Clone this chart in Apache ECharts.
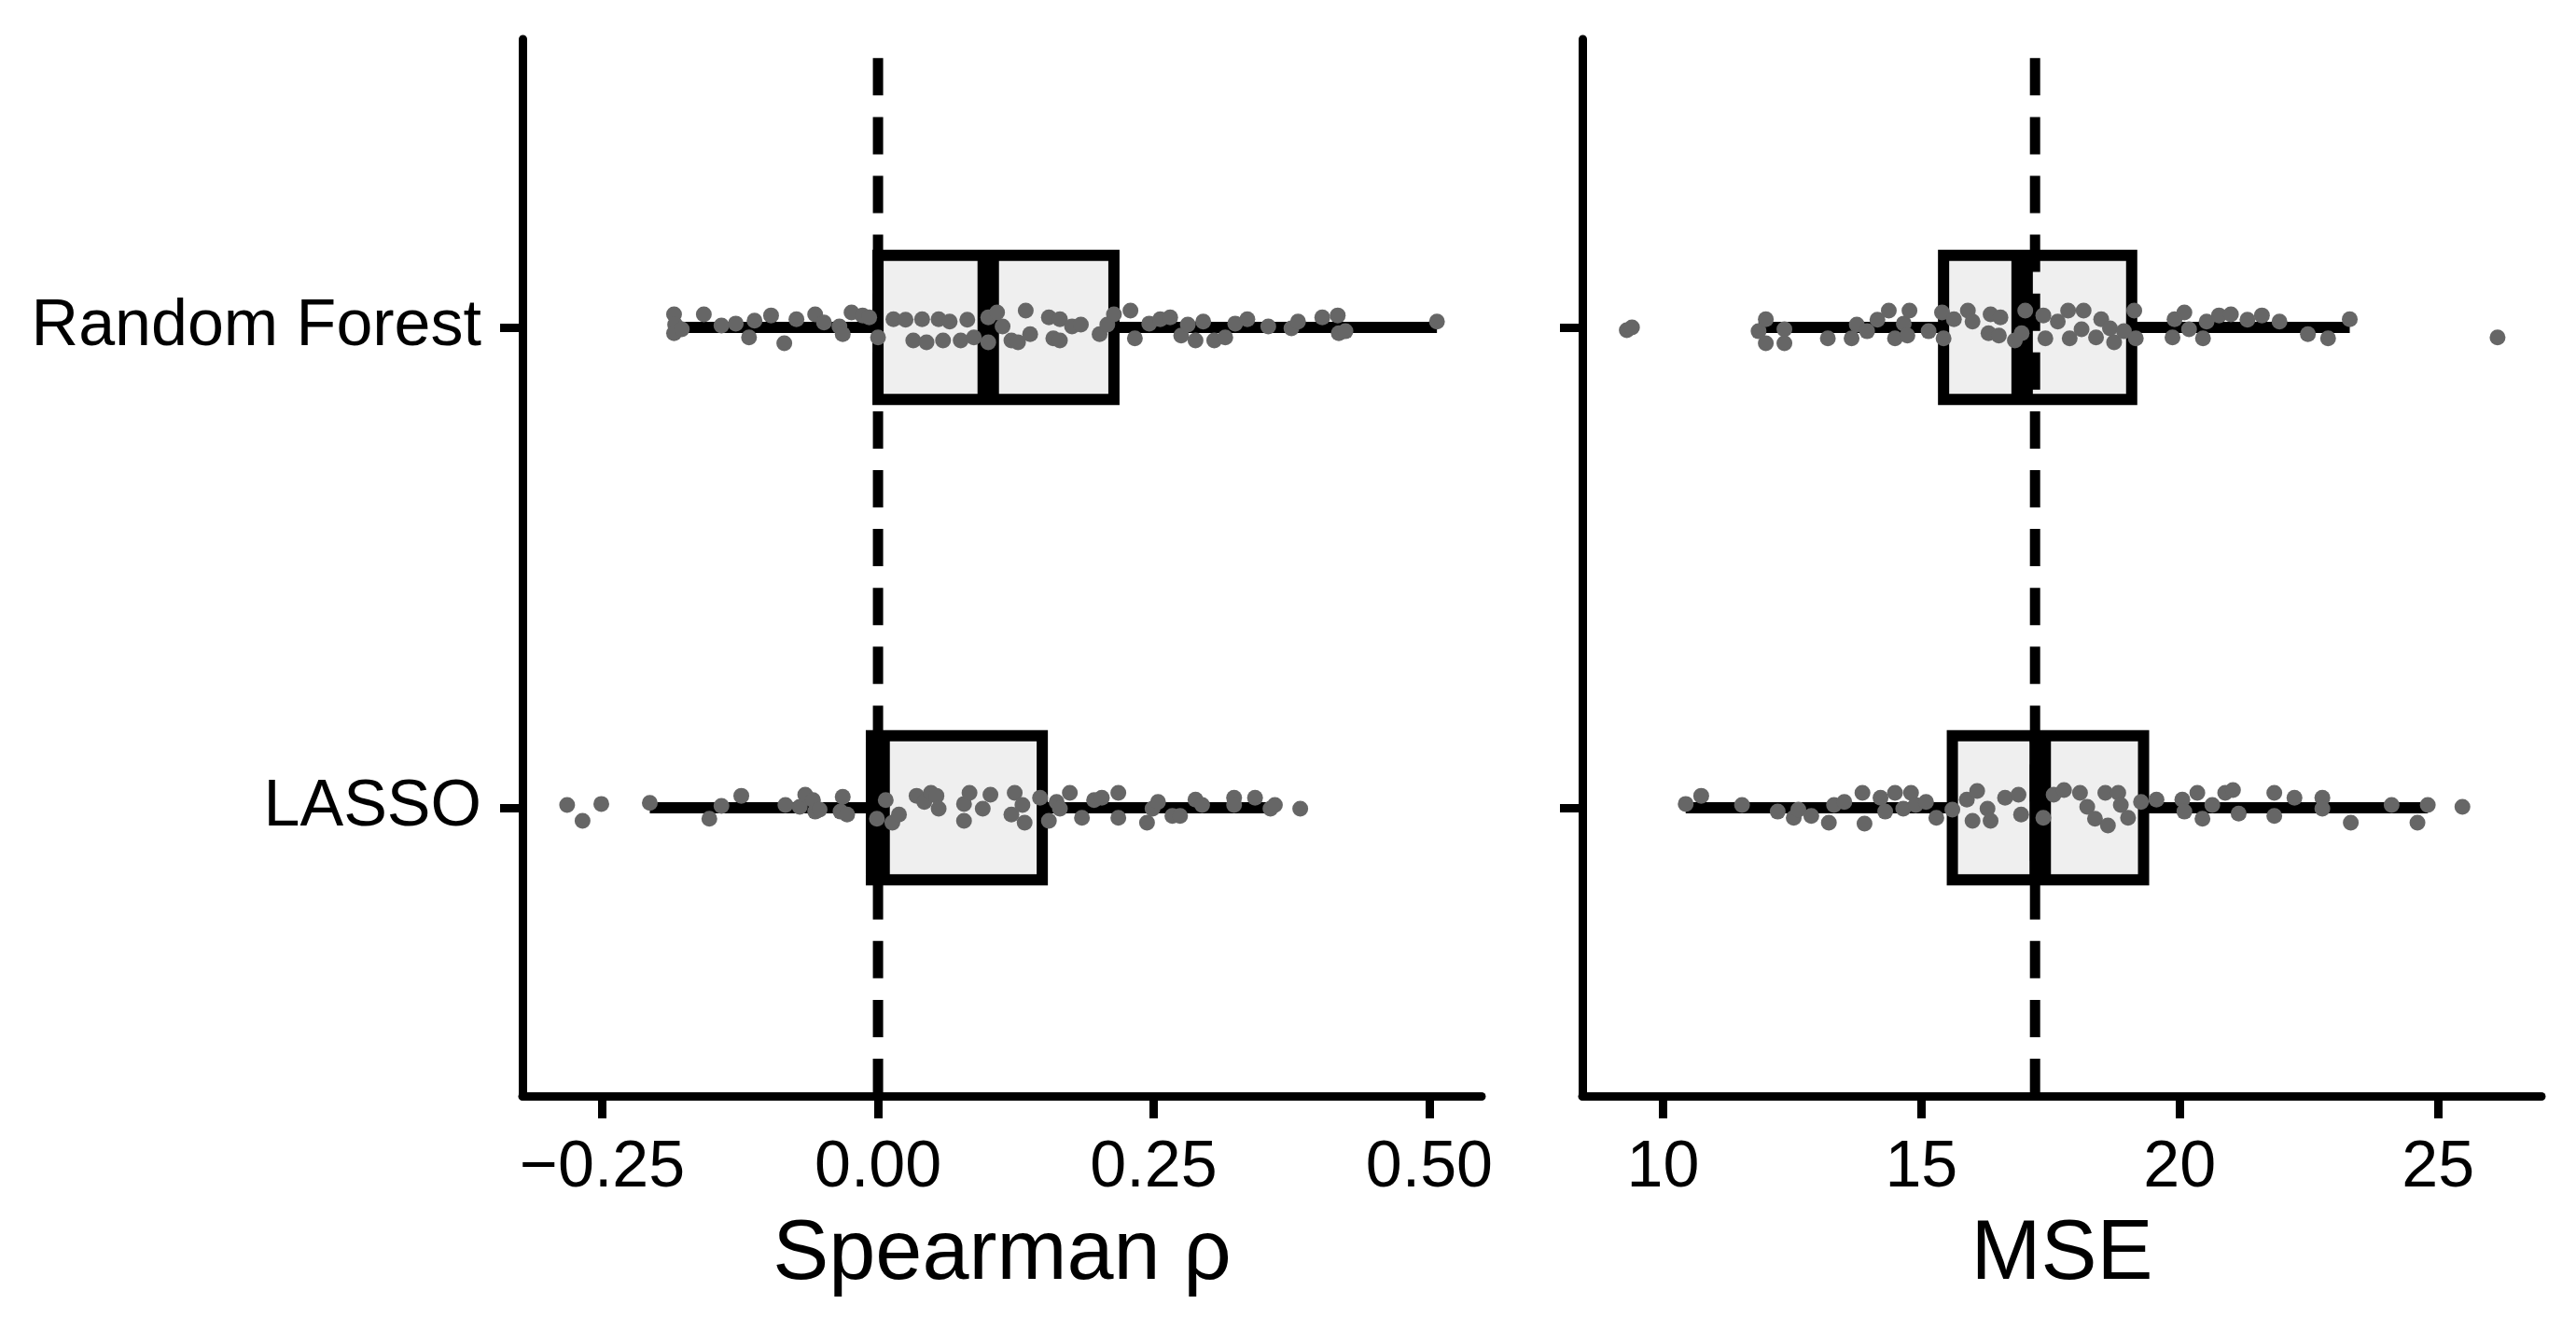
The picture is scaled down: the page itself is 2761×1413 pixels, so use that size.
<!DOCTYPE html>
<html>
<head>
<meta charset="utf-8">
<title>Spearman ρ / MSE</title>
<script src="https://cdn.jsdelivr.net/npm/echarts/dist/echarts.min.js"></script>
<style>
html, body { margin: 0; padding: 0; background: #fff; }
#chart { width: 2761px; height: 1413px; }
</style>
</head>
<body>
<div id="chart"></div>
<script>
// models on the y axis (LASSO at 1, Random Forest at 2)
const models = ['LASSO', 'Random Forest']

// box stats: [position, lower whisker, q1, median, q3, upper whisker]
const spearmanBoxes = [
  [1, -0.207, -0.006, 0.001, 0.149, 0.360],
  [2, -0.185, 0.000, 0.100, 0.214, 0.507]
]
const mseBoxes = [
  [1, 10.44, 15.60, 17.30, 19.30, 24.80],
  [2, 11.85, 15.43, 16.95, 19.07, 23.29]
]

// reference lines
const spearmanRef = 0
const mseRef = 17.2

// tick values
const spearmanTicks = [-0.25, 0, 0.25, 0.5]
const mseTicks = [10, 15, 20, 25]

// jittered points: [value, vertical jitter]
const rfSpearman = [
  [-0.185, 0.027], [-0.184, 0.006], [-0.185, -0.012], [-0.178, -0.004],
  [-0.158, 0.027], [-0.142, 0.004], [-0.129, 0.008], [-0.117, -0.021], [-0.112, 0.014],
  [-0.097, 0.025], [-0.085, -0.033], [-0.074, 0.017], [-0.057, 0.027], [-0.049, 0.010],
  [-0.035, 0.002], [-0.032, -0.014], [-0.024, 0.031], [-0.014, 0.025], [-0.008, 0.021],
  [0.000, -0.021], [0.014, 0.017], [0.025, 0.016], [0.032, -0.027], [0.040, 0.017],
  [0.044, -0.031], [0.055, 0.017], [0.059, -0.027], [0.065, 0.012], [0.075, -0.027],
  [0.081, 0.016], [0.087, -0.021], [0.100, 0.021], [0.100, -0.031], [0.108, 0.031],
  [0.113, 0.002], [0.121, -0.027], [0.127, -0.031], [0.134, 0.035], [0.138, -0.014],
  [0.155, 0.021], [0.159, -0.023], [0.165, 0.017], [0.165, -0.027], [0.176, 0.002],
  [0.184, 0.006], [0.201, -0.014], [0.208, 0.006], [0.214, 0.027], [0.229, 0.035],
  [0.233, -0.023], [0.246, 0.008], [0.256, 0.017], [0.265, 0.021], [0.275, -0.017],
  [0.281, 0.006], [0.288, -0.027], [0.295, 0.012], [0.305, -0.027], [0.315, -0.021],
  [0.324, 0.008], [0.335, 0.017], [0.354, 0.002], [0.375, -0.002], [0.381, 0.012],
  [0.403, 0.021], [0.417, 0.025], [0.418, -0.012], [0.424, -0.008], [0.507, 0.012]
]
const lassoSpearman = [
  [-0.282, 0.006], [-0.268, -0.027], [-0.251, 0.008], [-0.207, 0.010], [-0.153, -0.023],
  [-0.142, 0.004], [-0.124, 0.025], [-0.084, 0.006], [-0.071, 0.002], [-0.066, 0.027],
  [-0.059, 0.016], [-0.057, -0.008], [-0.053, -0.004], [-0.034, -0.008], [-0.032, 0.023],
  [-0.028, -0.014], [-0.001, -0.023], [0.007, 0.016], [0.013, -0.031], [0.019, -0.014],
  [0.035, 0.025], [0.042, 0.012], [0.048, 0.031], [0.053, 0.025], [0.055, -0.002],
  [0.078, 0.008], [0.078, -0.027], [0.083, 0.031], [0.095, -0.002], [0.102, 0.027],
  [0.124, 0.031], [0.121, -0.014], [0.133, -0.031], [0.131, 0.006], [0.147, 0.021],
  [0.155, -0.027], [0.162, 0.012], [0.165, -0.002], [0.174, 0.031], [0.185, -0.021],
  [0.196, 0.016], [0.203, 0.021], [0.218, 0.031], [0.218, -0.021], [0.244, -0.031],
  [0.249, -0.002], [0.254, 0.012], [0.267, -0.017], [0.274, -0.017], [0.288, 0.017],
  [0.294, 0.006], [0.323, 0.021], [0.323, 0.006], [0.342, 0.021], [0.356, -0.002],
  [0.360, 0.006], [0.383, -0.002]
]
const rfMse = [
  [9.30, -0.006], [9.40, 0.000], [11.85, -0.008], [11.99, 0.017], [11.99, -0.033],
  [12.35, -0.004], [12.35, -0.033], [13.19, -0.023], [13.65, -0.023], [13.75, 0.006],
  [13.95, -0.008], [14.15, 0.016], [14.37, 0.035], [14.49, -0.023], [14.66, 0.008],
  [14.77, 0.035], [14.73, -0.017], [15.14, -0.008], [15.40, 0.031], [15.43, -0.023],
  [15.63, 0.017], [15.90, 0.035], [15.99, 0.012], [16.34, 0.027], [16.30, -0.012],
  [16.53, 0.021], [16.50, -0.017], [16.81, -0.027], [16.94, -0.012], [17.01, 0.035],
  [17.36, 0.025], [17.40, -0.023], [17.64, 0.012], [17.84, 0.035], [17.87, -0.023],
  [18.14, 0.035], [18.10, -0.004], [18.38, -0.021], [18.48, 0.017], [18.73, -0.031],
  [18.65, -0.002], [18.92, -0.008], [19.12, 0.035], [19.15, -0.023], [19.90, 0.017],
  [19.86, -0.021], [20.09, 0.031], [20.18, -0.004], [20.45, -0.023], [20.52, 0.012],
  [20.76, 0.025], [20.99, 0.027], [21.31, 0.016], [21.59, 0.025], [21.93, 0.012],
  [22.48, -0.014], [22.87, -0.023], [23.29, 0.017], [26.15, -0.021]
]
const lassoMse = [
  [10.44, 0.008], [10.74, 0.025], [11.53, 0.006], [12.22, -0.008], [12.53, -0.021],
  [12.62, -0.004], [12.87, -0.017], [13.21, -0.031], [13.31, 0.006], [13.51, 0.012],
  [13.86, 0.031], [13.90, -0.033], [14.21, 0.021], [14.30, -0.008], [14.49, 0.031],
  [14.65, -0.002], [14.80, 0.031], [14.89, 0.006], [15.09, 0.012], [15.29, -0.021],
  [15.60, -0.004], [15.88, 0.017], [16.08, 0.035], [15.99, -0.027], [16.28, -0.002],
  [16.34, -0.027], [16.62, 0.021], [16.88, 0.027], [16.93, -0.014], [17.36, -0.021],
  [17.56, 0.027], [17.76, 0.037], [18.07, 0.031], [18.21, 0.002], [18.36, -0.023],
  [18.56, 0.031], [18.61, -0.037], [18.81, 0.031], [18.86, 0.006], [19.00, -0.021],
  [19.25, 0.012], [19.55, 0.017], [20.05, 0.017], [20.09, -0.008], [20.34, 0.031],
  [20.44, -0.023], [20.63, 0.006], [20.88, 0.031], [21.03, 0.037], [21.14, -0.012],
  [21.83, 0.031], [21.83, -0.017], [22.22, 0.021], [22.76, 0.021], [22.76, -0.002],
  [23.31, -0.031], [24.10, 0.006], [24.60, -0.031], [24.80, 0.006], [25.47, 0.002]
]

const font = 'Liberation Sans, Arial, Helvetica, sans-serif'
const boxHalf = 0.15

const chart = echarts.init(document.getElementById('chart'), null, { renderer: 'canvas' })

const renderBox = (params, api) => {
  const y = api.value(0)
  const lo = api.coord([api.value(1), y])
  const hi = api.coord([api.value(5), y])
  const tl = api.coord([api.value(2), y + boxHalf])
  const br = api.coord([api.value(4), y - boxHalf])
  const mt = api.coord([api.value(3), y + boxHalf])
  const mb = api.coord([api.value(3), y - boxHalf])
  return {
    type: 'group',
    children: [
      { type: 'line', shape: { x1: lo[0], y1: lo[1], x2: hi[0], y2: hi[1] }, style: { stroke: '#000', lineWidth: 12 } },
      { type: 'rect', shape: { x: tl[0], y: tl[1], width: br[0] - tl[0], height: br[1] - tl[1] }, style: { fill: '#efefef', stroke: '#000', lineWidth: 12 } },
      { type: 'line', shape: { x1: mt[0], y1: mt[1], x2: mb[0], y2: mb[1] }, style: { stroke: '#000', lineWidth: 23 } }
    ]
  }
}

const xAxisFor = (idx, min, max, ticks, fmt, title) => ({
  type: 'value',
  gridIndex: idx,
  min: min,
  max: max,
  axisLine: { show: true, onZero: false, lineStyle: { color: '#000', width: 9 } },
  axisTick: { show: true, length: 24, customValues: ticks, lineStyle: { color: '#000', width: 9 } },
  axisLabel: { customValues: ticks, formatter: fmt, fontSize: 70, color: '#000', margin: 43, fontFamily: font },
  splitLine: { show: false },
  name: title,
  nameLocation: 'middle',
  nameGap: 126,
  nameTextStyle: { fontSize: 90, color: '#000', fontFamily: font }
})

const yAxisFor = (idx, showLabels) => ({
  type: 'value',
  gridIndex: idx,
  min: 0.4,
  max: 2.6,
  axisLine: { show: true, onZero: false, lineStyle: { color: '#000', width: 9 } },
  axisTick: { show: true, length: 24, customValues: [1, 2], lineStyle: { color: '#000', width: 9 } },
  axisLabel: {
    show: showLabels,
    customValues: [1, 2],
    formatter: (v) => models[Math.round(v) - 1],
    fontSize: 70, color: '#000', margin: 44, fontFamily: font
  },
  splitLine: { show: false }
})

const refLine = (idx, x) => ({
  type: 'line',
  xAxisIndex: idx,
  yAxisIndex: idx,
  data: [[x, 0.4], [x, 2.6]],
  symbol: 'none',
  silent: true,
  lineStyle: { color: '#000', width: 11, type: [40, 23.1] },
  z: 3
})

const points = (idx, arr, pos) => ({
  type: 'scatter',
  xAxisIndex: idx,
  yAxisIndex: idx,
  data: arr.map(([v, j]) => [v, pos + j]),
  symbolSize: 17,
  silent: true,
  itemStyle: { color: '#666666', opacity: 1 },
  z: 4
})

const option = {
  backgroundColor: '#fff',
  animation: false,
  grid: [
    { left: 560, top: 42, width: 1028, height: 1133 },
    { left: 1696, top: 42, width: 1028, height: 1133 }
  ],
  xAxis: [
    xAxisFor(0, -0.3225, 0.5475, spearmanTicks, (v) => (v < 0 ? '\u2212' : '') + Math.abs(v).toFixed(2), 'Spearman ρ'),
    xAxisFor(1, 8.44, 27.0, mseTicks, (v) => String(v), 'MSE')
  ],
  yAxis: [yAxisFor(0, true), yAxisFor(1, false)],
  series: [
    { type: 'custom', xAxisIndex: 0, yAxisIndex: 0, renderItem: renderBox, data: spearmanBoxes, encode: { x: [1, 2, 3, 4, 5], y: 0 }, silent: true, z: 2 },
    { type: 'custom', xAxisIndex: 1, yAxisIndex: 1, renderItem: renderBox, data: mseBoxes, encode: { x: [1, 2, 3, 4, 5], y: 0 }, silent: true, z: 2 },
    refLine(0, spearmanRef),
    refLine(1, mseRef),
    points(0, rfSpearman, 2),
    points(0, lassoSpearman, 1),
    points(1, rfMse, 2),
    points(1, lassoMse, 1)
  ]
}

chart.setOption(option)
</script>
</body>
</html>
